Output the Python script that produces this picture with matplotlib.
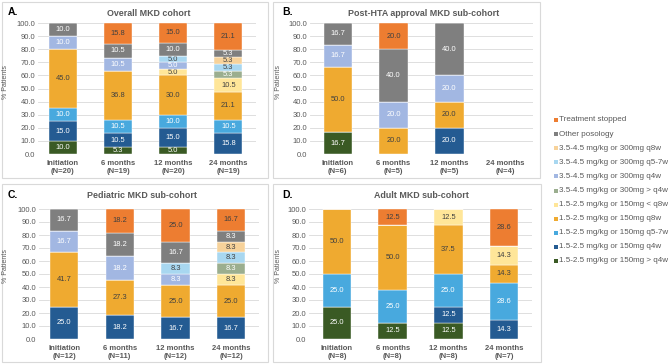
import matplotlib
matplotlib.use("Agg")
import matplotlib.pyplot as plt
from matplotlib.patches import Rectangle
import numpy as np

plt.rcParams['font.family'] = ['Liberation Sans', 'DejaVu Sans']

# ---------------- data ----------------
series = [
    "1.5-2.5 mg/kg or 150mg > q4w",
    "1.5-2.5 mg/kg or 150mg q4w",
    "1.5-2.5 mg/kg or 150mg q5-7w",
    "1.5-2.5 mg/kg or 150mg q8w",
    "1.5-2.5 mg/kg or 150mg < q8w",
    "3.5-4.5 mg/kg or 300mg > q4w",
    "3.5-4.5 mg/kg or 300mg q4w",
    "3.5-4.5 mg/kg or 300mg q5-7w",
    "3.5-4.5 mg/kg or 300mg q8w",
    "Other posology",
    "Treatment stopped",
]
colors = ["#3A5A24", "#245B92", "#48A9DE", "#EFAA30", "#FFE699",
          "#9BAE8F", "#A2B7E2", "#A8D7F0", "#F7D29A", "#7F7F7F", "#ED7D31"]
label_colors = ["white", "white", "white", "#404040", "#404040",
                "white", "white", "#404040", "#404040", "white", "#404040"]

timepoints = ["Initiation", "6 months", "12 months", "24 months"]

n_A = [20, 19, 20, 19]
n_B = [6, 5, 5, 4]
n_C = [12, 11, 12, 12]
n_D = [8, 8, 8, 7]

vals_A = [
    [10.0, 5.3, 5.0, 0],
    [15.0, 10.5, 15.0, 15.8],
    [10.0, 10.5, 10.0, 10.5],
    [45.0, 36.8, 30.0, 21.1],
    [0, 0, 5.0, 10.5],
    [0, 0, 0, 5.3],
    [10.0, 10.5, 5.0, 0],
    [0, 0, 5.0, 5.3],
    [0, 0, 0, 5.3],
    [10.0, 10.5, 10.0, 5.3],
    [0, 15.8, 15.0, 21.1],
]
vals_B = [
    [16.7, 0, 0, 0],
    [0, 0, 20.0, 0],
    [0, 0, 0, 0],
    [50.0, 20.0, 20.0, 0],
    [0, 0, 0, 0],
    [0, 0, 0, 0],
    [16.7, 20.0, 20.0, 0],
    [0, 0, 0, 0],
    [0, 0, 0, 0],
    [16.7, 40.0, 40.0, 0],
    [0, 20.0, 0, 0],
]
vals_C = [
    [0, 0, 0, 0],
    [25.0, 18.2, 16.7, 16.7],
    [0, 0, 0, 0],
    [41.7, 27.3, 25.0, 25.0],
    [0, 0, 0, 8.3],
    [0, 0, 0, 8.3],
    [16.7, 18.2, 8.3, 0],
    [0, 0, 8.3, 8.3],
    [0, 0, 0, 8.3],
    [16.7, 18.2, 16.7, 8.3],
    [0, 18.2, 25.0, 16.7],
]
vals_D = [
    [25.0, 12.5, 12.5, 0],
    [0, 0, 12.5, 14.3],
    [25.0, 25.0, 25.0, 28.6],
    [50.0, 50.0, 37.5, 14.3],
    [0, 0, 12.5, 14.3],
    [0, 0, 0, 0],
    [0, 0, 0, 0],
    [0, 0, 0, 0],
    [0, 0, 0, 0],
    [0, 0, 0, 0],
    [0, 12.5, 0, 28.6],
]

titles = ["Overall MKD cohort", "Post-HTA approval MKD sub-cohort",
          "Pediatric MKD sub-cohort", "Adult MKD sub-cohort"]
letters = ["A.", "B.", "C.", "D."]

# ---------------- layout (pixels) ----------------
W, H = 669, 364
fig = plt.figure(figsize=(W / 100, H / 100), dpi=100)
fig.patch.set_facecolor("white")

def fx(x):
    return x / W

def fy(y):
    return 1 - y / H

TXT = "#595959"

# panel boxes: (x0, y0, x1, y1)
boxes = [(2, 2, 268, 178), (273, 2, 540, 178), (2, 184, 268, 362), (273, 184, 541, 362)]
for (x0, y0, x1, y1) in boxes:
    fig.patches.append(Rectangle((fx(x0), fy(y1)), fx(x1 - x0), (y1 - y0) / H,
                                 transform=fig.transFigure, facecolor="white",
                                 edgecolor="#d9d9d9", linewidth=0.8, zorder=-5))

# axes: (left, right, top, bottom, xlim_left)
axes_px = [(38, 256, 23, 154, -0.45), (310, 533, 23, 154, -0.5),
           (39, 259, 209, 339, -0.45), (309, 532, 209, 339, -0.5)]
title_pos = [(149, 13), (424, 13), (142, 196), (421, 196)]
letter_pos = [(8, 12), (282, 12), (8, 195), (282, 195)]
ylab_pos = [(6, 82), (279, 82), (6, 266), (279, 266)]

all_vals = [vals_A, vals_B, vals_C, vals_D]
all_n = [n_A, n_B, n_C, n_D]

for p in range(4):
    l, r, t, b, xl = axes_px[p]
    ax = fig.add_axes([fx(l), fy(b), (r - l) / W, (b - t) / H])
    ax.set_zorder(2)
    ax.set_facecolor("none")
    x = np.arange(len(timepoints))
    bottom = np.zeros(len(timepoints))
    vals = all_vals[p]
    for s in range(len(series)):
        v = np.array(vals[s], dtype=float)
        bars = ax.bar(x, v, 0.51, bottom=bottom, color=colors[s],
                      edgecolor="white", linewidth=0.3, zorder=3)
        labels = ["{:.1f}".format(val) if val > 0 else "" for val in v]
        ax.bar_label(bars, labels=labels, label_type="center",
                     fontsize=5.4, color=label_colors[s])
        bottom += v
    ax.set_xlim(xl, 3.5)
    ax.set_ylim(0, 100)
    ax.set_yticks(np.arange(0, 101, 10))
    ax.set_yticklabels(["{:.1f}".format(v) for v in np.arange(0, 101, 10)])
    ax.set_xticks(x)
    ax.set_xticklabels(["{}\n(N={})".format(tp, n) for tp, n in zip(timepoints, all_n[p])],
                       fontweight="bold", fontsize=5.5, color=TXT, linespacing=1.25)
    ax.tick_params(axis="y", length=0, pad=2, labelsize=5.5, labelcolor=TXT)
    ax.tick_params(axis="x", length=0, pad=4)
    ax.grid(axis="y", color="#d9d9d9", linewidth=0.6, zorder=0)
    ax.set_axisbelow(True)
    for sp in ax.spines.values():
        sp.set_visible(False)

    tx, ty = title_pos[p]
    fig.text(fx(tx), fy(ty), titles[p], ha="center", va="center",
             fontsize=6.4, fontweight="bold", color=TXT)
    lx, ly = letter_pos[p]
    fig.text(fx(lx), fy(ly), letters[p], ha="left", va="center",
             fontsize=7.5, fontweight="bold", color="black")
    yx, yy = ylab_pos[p]
    fig.text(fx(yx), fy(yy), "% Patients", ha="center", va="center",
             rotation=90, fontsize=5, color=TXT)

# ---------------- legend ----------------
leg_y0 = 120
leg_dy = 14.1
for i, s in enumerate(reversed(range(len(series)))):
    yy = leg_y0 + i * leg_dy
    fig.patches.append(Rectangle((fx(554), fy(yy + 2)), fx(4), 4 / H,
                                 transform=fig.transFigure, facecolor=colors[s],
                                 edgecolor="none"))
    fig.text(fx(559), fy(yy), series[s], ha="left", va="center",
             fontsize=5.8, color=TXT)

fig.savefig("out.png", dpi=100, facecolor="white")
